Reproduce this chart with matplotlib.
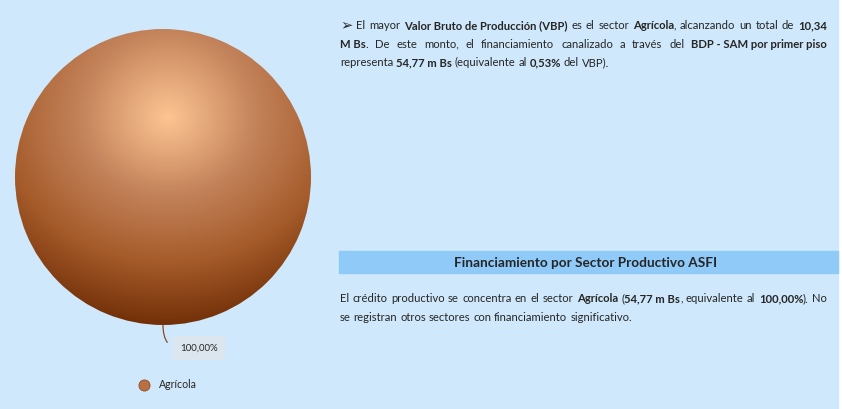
import numpy as np
import matplotlib.pyplot as plt
from matplotlib.colors import LinearSegmentedColormap
from matplotlib.lines import Line2D
from matplotlib.patches import Rectangle

# ---------------- datos ----------------
sectores = ["Agrícola"]
montos = [54.77]  # m Bs
color_sector = "#C0784A"

parrafo_vbp = [
    "➢ El mayor **Valor Bruto de Producción (VBP)** es el sector **Agrícola**, alcanzando un total de **10,34**",
    "**M Bs**. De este monto, el financiamiento canalizado a través del **BDP - SAM por primer piso**",
    "representa **54,77 m Bs** (equivalente al **0,53%** del VBP).",
]
titulo_asfi = "Financiamiento por Sector Productivo ASFI"
parrafo_asfi = [
    "El crédito productivo se concentra en el sector **Agrícola** (**54,77 m Bs**, equivalente al **100,00%**). No",
    "se registran otros sectores con financiamiento significativo.",
]

FONDO = "#CFE8FB"
BANDA = "#8FCAF8"
TEXTO = "#262626"
FUENTE = ["Lato", "DejaVu Sans"]
TAM = 8.1

W, H = 842, 409
fig = plt.figure(figsize=(W / 100, H / 100), dpi=100, facecolor="white")

# lienzo en pixeles para fondo y textos
lienzo = fig.add_axes([0, 0, 1, 1])
lienzo.set_xlim(0, W)
lienzo.set_ylim(H, 0)
lienzo.axis("off")
lienzo.add_patch(Rectangle((0, 0), 838, H, color=FONDO, zorder=0))
lienzo.add_patch(Rectangle((339, 251), 499, 22, color=BANDA, zorder=1))

renderer = fig.canvas.get_renderer()


def tam_de(t, tam):
    # la viñeta se dibuja algo más grande que el texto
    return tam * 1.3 if t == "➢" else tam


def ancho(txt, negrita, tam):
    t = lienzo.text(0, 0, txt, fontsize=tam_de(txt, tam), family=FUENTE,
                    fontweight="bold" if negrita else "normal")
    w = t.get_window_extent(renderer).width
    t.remove()
    return w


def palabras(linea):
    # convierte la marca **...** en tramos (texto, negrita) por palabra
    chars = []
    for i, parte in enumerate(linea.split("**")):
        chars += [(c, i % 2 == 1) for c in parte]
    out, actual = [], []
    for c, b in chars + [(" ", False)]:
        if c == " " and not (b and actual and actual[-1][1]):
            if actual:
                out.append(actual)
            actual = []
            continue
        if actual and actual[-1][1] == b:
            actual[-1] = (actual[-1][0] + c, b)
        else:
            actual.append((c, b))
    return out


def parrafo(lineas, x0, x1, y0, salto, tam):
    espacio = ancho("a a", False, tam) - ancho("aa", False, tam)
    for k, linea in enumerate(lineas):
        ws = palabras(linea)
        anchos = [[ancho(t, b, tam) for t, b in w] for w in ws]
        total = sum(sum(a) for a in anchos)
        if k < len(lineas) - 1 and len(ws) > 1:
            hueco = max((x1 - x0 - total) / (len(ws) - 1), espacio * 0.6)
        else:
            hueco = espacio
        x = x0
        y = y0 + k * salto
        for w, a in zip(ws, anchos):
            for (t, b), aa in zip(w, a):
                lienzo.text(x, y, t, fontsize=tam_de(t, tam), family=FUENTE,
                            color=TEXTO, fontweight="bold" if b else "normal",
                            ha="left", va="baseline", zorder=3)
                x += aa
            x += hueco


parrafo(parrafo_vbp, 340, 827, 29, 18.7, TAM)
parrafo(parrafo_asfi, 340, 827, 302, 19, TAM)
lienzo.text(586, 267, titulo_asfi, fontsize=9.8, family=FUENTE, color=TEXTO,
            fontweight="bold", ha="center", va="baseline", zorder=3)

# ---------------- torta ----------------
cx, cy, r = 163, 177, 148
ax = fig.add_axes([(cx - r) / W, (H - cy - r) / H, 2 * r / W, 2 * r / H])
cunas, _ = ax.pie(montos, colors=[color_sector], startangle=90,
                  counterclock=False, wedgeprops=dict(linewidth=0))
ax.set_xlim(-1, 1)
ax.set_ylim(-1, 1)
ax.axis("off")

# relleno con degradado radial desde el brillo superior, más oscuro hacia abajo
foco = (0.034, 0.40)
g = np.linspace(-1, 1, 500)
gx, gy = np.meshgrid(g, g)
dy = gy - foco[1]
dy = np.where(dy < 0, dy * 1.15, dy)
d = np.hypot(gx - foco[0], dy) * r
cmap = LinearSegmentedColormap.from_list(
    "cobre", [(0, "#FDC592"), (89 / 238, "#C3825A"), (167 / 238, "#A55B2A"),
              (1, "#733008")])
for cuna in cunas:
    cuna.set_alpha(0)
    img = ax.imshow(np.clip(d / 238, 0, 1), cmap=cmap, vmin=0, vmax=1,
                    extent=(-1, 1, -1, 1), origin="lower", zorder=2)
    img.set_clip_path(cuna)

# etiqueta de porcentaje
total = sum(montos)
for cuna, m in zip(cunas, montos):
    ang = np.deg2rad((cuna.theta1 + cuna.theta2) / 2)
    etiqueta = f"{m / total * 100:.2f}%".replace(".", ",")
    ax.annotate(etiqueta, xy=(np.cos(ang), np.sin(ang)), xytext=(180, 348),
                textcoords=lienzo.transData, fontsize=7.0, family=FUENTE,
                color=TEXTO, ha="left", va="center", annotation_clip=False,
                bbox=dict(boxstyle="square,pad=0.75", fc="#DCE6EE", ec="none"),
                arrowprops=dict(arrowstyle="-", color="#8B4A25", lw=0.9,
                                connectionstyle="angle3,angleA=0,angleB=90",
                                relpos=(0, 0.5), shrinkA=5, shrinkB=0))

# leyenda
manijas = [Line2D([], [], marker="o", ls="none", markersize=8,
                  markerfacecolor="#B87044", markeredgecolor="#8E4E26",
                  markeredgewidth=0.6) for _ in sectores]
fig.legend(manijas, sectores, loc="center", bbox_to_anchor=(165 / W, 1 - 385 / H),
           frameon=False, prop=dict(family=FUENTE, size=7.6), handletextpad=0.45,
           labelcolor=TEXTO)

fig.savefig("out.png", dpi=100)
